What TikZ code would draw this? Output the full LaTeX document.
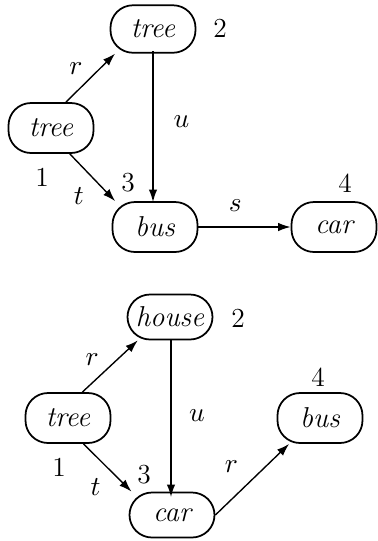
\documentclass[tikz,border=0pt]{standalone}
\usetikzlibrary{arrows.meta,positioning}
\begin{document}
\begin{tikzpicture}[x=0.4pt,y=-0.4pt,
  wnode/.style={draw,line width=0.7pt,rounded corners=9pt,minimum width=34pt,minimum height=19pt,inner sep=0pt,font=\fontsize{11.5}{13}\selectfont\itshape},
  edge/.style={line width=0.55pt,-{Latex[length=5pt,width=3.4pt]}},
  lbl/.style={inner sep=0pt,font=\fontsize{11}{13}\selectfont},
  num/.style={inner sep=0pt,font=\fontsize{11}{13}\selectfont}]
\useasboundingbox (0,0) rectangle (378,541);
% top graph
\node[wnode] (a2) at (153,29) {tree};
\node[wnode,minimum height=20pt] (a1) at (51,128) {tree};
\node[wnode,minimum height=20pt] (a3) at (155,227) {bus};
\node[wnode,minimum height=20pt] (a4) at (334,227) {car};
\node[num] (na2) at (220,28) {2};
\node[num] (na1) at (42,177) {1};
\node[num] (na3) at (128,183) {3};
\node[num] (na4) at (345,183) {4};
\draw[edge] (a1.60) -- (a2.213) node[lbl,pos=0.45,above left=2pt and 2pt] {$r$};
\coordinate (a2b) at (153,51);
\coordinate (a3t) at (153,202);
\draw[edge] (a2b) -- (a3t) node[lbl,pos=0.47,right=8pt] {$u$};
\draw[edge] (a1.306) -- (a3.147) node[lbl,pos=0.6,below left=2pt and 5pt] {$t$};
\draw[edge] (a3.east) -- (a4.west) node[lbl,pos=0.4,above=6pt] {$s$};
% bottom graph
\node[wnode,minimum height=18pt] (b2) at (170,317) {house};
\node[wnode,minimum height=20pt] (b1) at (68,418) {tree};
\node[wnode,minimum height=18pt] (b3) at (172,515) {car};
\node[wnode,minimum height=20pt] (b4) at (320,418) {bus};
\node[num] (nb2) at (238,318) {2};
\node[num] (nb1) at (59,467) {1};
\node[num] (nb3) at (144,475) {3};
\node[num] (nb4) at (318,377) {4};
\draw[edge] (b1.61) -- (b2.216) node[lbl,pos=0.4,above left=2pt and 2pt] {$r$};
\coordinate (b2b) at (171,340);
\coordinate (b3t) at (171,497);
\draw[edge] (b2b) -- (b3t) node[lbl,pos=0.48,right=7pt] {$u$};
\draw[edge] (b1.301) -- (b3.150) node[lbl,pos=0.6,below left=2pt and 4.5pt] {$t$};
\draw[edge] (b3.east) -- (b4.220) node[lbl,pos=0.45,above left=4pt and 4pt] {$r$};
\end{tikzpicture}
\end{document}
